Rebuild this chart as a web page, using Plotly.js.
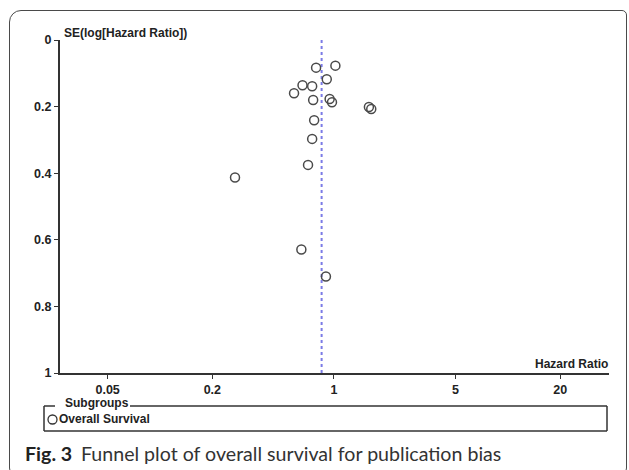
<!DOCTYPE html>
<html><head><meta charset="utf-8">
<script src="https://cdn.plot.ly/plotly-3.0.1.min.js"></script>
<style>
html,body{margin:0;padding:0;background:#fff;}
#wrap{position:relative;width:629px;height:470px;overflow:hidden;}
#chart{position:absolute;left:0;top:0;width:629px;height:470px;}
#frame{position:absolute;left:9px;top:10px;width:618px;height:470px;border:1.5px solid #4a4a4a;border-radius:12px 5px 12px 12px;pointer-events:none;box-sizing:border-box;}
</style></head><body>
<div id="wrap"><div id="chart"></div><div id="frame"></div></div>
<script>
// ---- data ----
const hazardRatio = [0.79, 1.02, 0.91, 0.66, 0.75, 0.59, 0.76, 0.945, 0.975, 1.59, 1.64, 0.77, 0.75, 0.71, 0.27, 0.65, 0.90];
const seLogHR     = [0.083, 0.077, 0.118, 0.136, 0.139, 0.160, 0.180, 0.177, 0.187, 0.201, 0.207, 0.241, 0.297, 0.375, 0.413, 0.629, 0.710];
const pooledHR = 0.85;
const seRange = [0, 1];
const xTickVals = [0.05, 0.2, 1, 5, 20];
const xTickText = ['0.05', '0.2', '1', '5', '20'];
const yTickVals = [0, 0.2, 0.4, 0.6, 0.8, 1];
const yTickText = ['0', '0.2', '0.4', '0.6', '0.8', '1'];
const seriesName = 'Overall Survival';
const legendTitle = 'Subgroups';
const xTitle = 'Hazard Ratio';
const yTitle = 'SE(log[Hazard Ratio])';
const captionLabel = 'Fig. 3';
const captionText = 'Funnel plot of overall survival for publication bias';

// ---- layout helpers (pixel -> paper) ----
const W = 629, Hh = 470;
const M = {l: 60, r: 20, t: 40, b: 97};
const PW = W - M.l - M.r, PH = Hh - M.t - M.b;
const px = v => (v - M.l) / PW;
const py = v => (Hh - M.b - v) / PH;

const axFont = {family: 'Liberation Sans, Arial, sans-serif', size: 12, color: '#222', weight: 'bold'};
const tickFont = {family: 'Liberation Sans, Arial, sans-serif', size: 12.5, color: '#222', weight: 'bold'};
const ink = '#333';

const traces = [
  {
    x: [pooledHR, pooledHR], y: seRange, type: 'scatter', mode: 'lines',
    line: {color: '#7b7be6', width: 2, dash: 'dot'}, hoverinfo: 'skip', showlegend: false
  },
  {
    x: hazardRatio, y: seLogHR, type: 'scatter', mode: 'markers', name: seriesName,
    marker: {symbol: 'circle-open', size: 9, color: '#4a4a4a', line: {width: 1.5, color: '#4a4a4a'}},
    showlegend: false
  }
];

function seg(x0, y0, x1, y1) {
  return {type: 'line', xref: 'paper', yref: 'paper', x0: px(x0), y0: py(y0), x1: px(x1), y1: py(y1),
          line: {color: ink, width: 1.5}};
}

const layout = {
  width: W, height: Hh,
  margin: M,
  paper_bgcolor: '#fff', plot_bgcolor: '#fff',
  showlegend: false,
  xaxis: {
    type: 'log', range: [-1.575, 1.582], showgrid: false, zeroline: false,
    showline: true, linecolor: ink, linewidth: 1.5,
    ticks: 'outside', ticklen: 4, tickwidth: 1, tickcolor: ink,
    tickmode: 'array', tickvals: xTickVals, ticktext: xTickText, tickfont: tickFont
  },
  yaxis: {
    range: [1, 0], showgrid: false, zeroline: false,
    showline: true, linecolor: ink, linewidth: 2,
    ticks: 'outside', ticklen: 4, tickwidth: 1, tickcolor: ink,
    tickmode: 'array', tickvals: yTickVals, ticktext: yTickText, tickfont: tickFont
  },
  shapes: [
    seg(44, 406, 55, 406), seg(130, 406, 607, 406),
    seg(44, 406, 44, 431), seg(607, 406, 607, 431), seg(44, 431, 607, 431),
    {type: 'circle', xref: 'paper', yref: 'paper', xsizemode: 'pixel', ysizemode: 'pixel',
     xanchor: px(52.5), yanchor: py(419.5), x0: -4.5, x1: 4.5, y0: -4.5, y1: 4.5,
     line: {color: ink, width: 1.3}}
  ],
  annotations: [
    {text: yTitle, xref: 'paper', yref: 'paper', x: px(62), y: py(33), xanchor: 'left', yanchor: 'middle', showarrow: false, font: axFont},
    {text: xTitle, xref: 'paper', yref: 'paper', x: px(610), y: py(364), xanchor: 'right', yanchor: 'middle', showarrow: false, font: axFont},
    {text: legendTitle, xref: 'paper', yref: 'paper', x: px(63), y: py(403), xanchor: 'left', yanchor: 'middle', showarrow: false, font: axFont},
    {text: seriesName, xref: 'paper', yref: 'paper', x: px(57), y: py(419.5), xanchor: 'left', yanchor: 'middle', showarrow: false, font: axFont},
    {text: captionLabel, xref: 'paper', yref: 'paper', x: px(23), y: py(453), xanchor: 'left', yanchor: 'middle', showarrow: false,
     font: {family: 'Lato, Open Sans, sans-serif', size: 19.6, color: '#222', weight: 'bold'}},
    {text: captionText, xref: 'paper', yref: 'paper', x: px(79), y: py(453), xanchor: 'left', yanchor: 'middle', showarrow: false,
     font: {family: 'Lato, Open Sans, sans-serif', size: 19.6, color: '#333'}}
  ]
};

Plotly.newPlot('chart', traces, layout, {displayModeBar: false, staticPlot: true});
</script>
</body></html>
